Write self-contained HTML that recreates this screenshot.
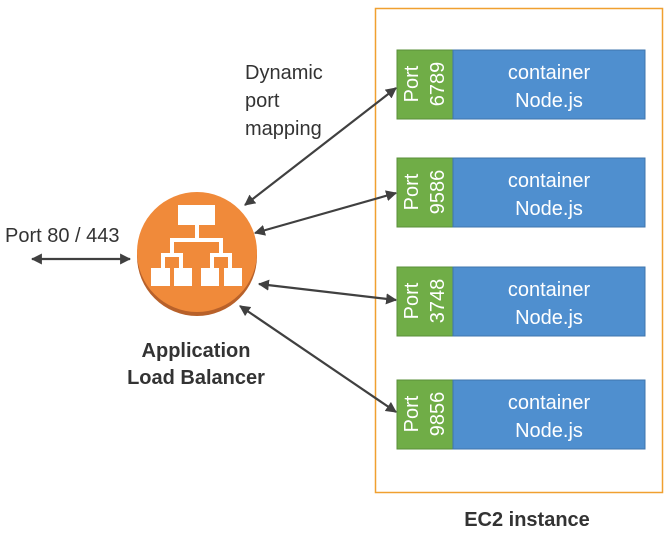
<!DOCTYPE html>
<html><head><meta charset="utf-8"><style>
body{margin:0;background:#fff;}
svg{display:block;}
text{font-family:"Liberation Sans",sans-serif;}
</style></head><body>
<svg width="671" height="539" viewBox="0 0 671 539">
<defs>
<marker id="a" viewBox="0 0 10 10" refX="9" refY="5" markerWidth="5" markerHeight="5" orient="auto-start-reverse"><path d="M0,0 L10,5 L0,10 z" fill="#404040"/></marker>
</defs>
<rect x="375.5" y="8.5" width="287" height="484" fill="none" stroke="#f0a030" stroke-width="1.5"/>
<g font-size="20" fill="#fff" text-anchor="middle">
<rect x="397" y="50" width="56" height="69" fill="#70ad47" stroke="#5a8f38"/><rect x="453" y="50" width="192" height="69" fill="#4f8fcf" stroke="#3f75ad"/>
<text x="549" y="79">container</text><text x="549" y="107">Node.js</text>
<text transform="translate(418,84) rotate(-90)">Port</text><text transform="translate(444,84) rotate(-90)">6789</text>
<rect x="397" y="158" width="56" height="69" fill="#70ad47" stroke="#5a8f38"/><rect x="453" y="158" width="192" height="69" fill="#4f8fcf" stroke="#3f75ad"/>
<text x="549" y="187">container</text><text x="549" y="215">Node.js</text>
<text transform="translate(418,192) rotate(-90)">Port</text><text transform="translate(444,192) rotate(-90)">9586</text>
<rect x="397" y="267" width="56" height="69" fill="#70ad47" stroke="#5a8f38"/><rect x="453" y="267" width="192" height="69" fill="#4f8fcf" stroke="#3f75ad"/>
<text x="549" y="296">container</text><text x="549" y="324">Node.js</text>
<text transform="translate(418,301) rotate(-90)">Port</text><text transform="translate(444,301) rotate(-90)">3748</text>
<rect x="397" y="380" width="56" height="69" fill="#70ad47" stroke="#5a8f38"/><rect x="453" y="380" width="192" height="69" fill="#4f8fcf" stroke="#3f75ad"/>
<text x="549" y="409">container</text><text x="549" y="437">Node.js</text>
<text transform="translate(418,414) rotate(-90)">Port</text><text transform="translate(444,414) rotate(-90)">9856</text>
</g>
<circle cx="197" cy="256" r="60" fill="#b8612a"/>
<circle cx="197" cy="252" r="60" fill="#f08a3a"/>
<g fill="#fff">
<rect x="178" y="205" width="37" height="20"/>
<rect x="195" y="225" width="4" height="14"/>
<rect x="170" y="238" width="53" height="4"/>
<rect x="170" y="238" width="4" height="16"/><rect x="219" y="238" width="4" height="16"/>
<rect x="161" y="253" width="22" height="4"/><rect x="161" y="253" width="4" height="15"/><rect x="179" y="253" width="4" height="15"/>
<rect x="210" y="253" width="22" height="4"/><rect x="210" y="253" width="4" height="15"/><rect x="228" y="253" width="4" height="15"/>
<rect x="151" y="268" width="19" height="18"/><rect x="174" y="268" width="18" height="18"/>
<rect x="201" y="268" width="18" height="18"/><rect x="224" y="268" width="18" height="18"/>
</g>
<g stroke="#404040" stroke-width="2.2" marker-start="url(#a)" marker-end="url(#a)">
<line x1="32" y1="259" x2="130" y2="259"/>
<line x1="245" y1="205" x2="396" y2="88"/>
<line x1="255" y1="233" x2="396" y2="193"/>
<line x1="259" y1="284" x2="396" y2="300"/>
<line x1="240" y1="306" x2="396" y2="412"/>
</g>
<g fill="#333" font-size="20">
<text x="5" y="242">Port 80 / 443</text>
<text x="245" y="79">Dynamic</text>
<text x="245" y="107">port</text>
<text x="245" y="135">mapping</text>
</g>
<g fill="#333" font-size="20" font-weight="bold" text-anchor="middle">
<text x="196" y="357">Application</text>
<text x="196" y="384">Load Balancer</text>
<text x="527" y="526">EC2 instance</text>
</g>
</svg>
</body></html>
